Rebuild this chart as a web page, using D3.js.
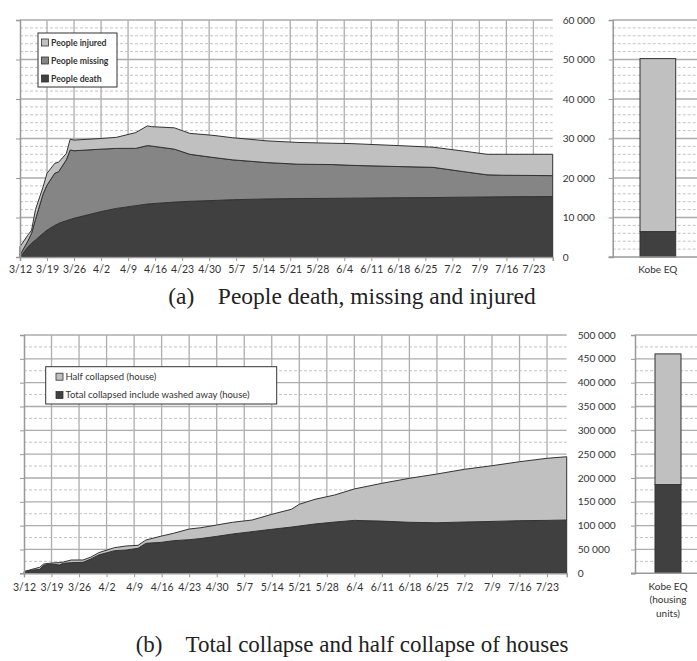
<!DOCTYPE html>
<html>
<head>
<meta charset="utf-8">
<script src="https://cdn.jsdelivr.net/npm/d3@7"></script>
<style>
  html, body { margin: 0; padding: 0; background: #fff; }
  svg { display: block; }
  text { font-family: Lato, "Open Sans", sans-serif; fill: #333; }
  .cap { font-family: "Liberation Serif", "DejaVu Serif", serif; fill: #222; }
</style>
</head>
<body>
<svg id="chart" width="697" height="661"></svg>
<script>
// ---------- DATA ----------
// (a) people
const datesA = ["2011-03-12","2011-03-14","2011-03-15","2011-03-16","2011-03-18","2011-03-19","2011-03-21","2011-03-22","2011-03-24","2011-03-25","2011-03-26","2011-04-02","2011-04-06","2011-04-11","2011-04-14","2011-04-15","2011-04-21","2011-04-25","2011-05-01","2011-05-06","2011-05-15","2011-05-23","2011-06-01","2011-06-06","2011-06-18","2011-06-27","2011-07-05","2011-07-11","2011-07-15","2011-07-28"];
const peopleDeath   = [0,2500,3500,4300,6000,6800,8000,8500,9200,9500,9800,11500,12300,13000,13400,13500,13900,14100,14300,14500,14700,14800,14850,14900,15000,15050,15150,15200,15250,15300];
const peopleMissing = [500,1500,2500,5200,10000,11400,13200,13100,15400,17600,17100,15800,15200,14500,14800,14600,13400,11900,10900,10100,9200,8700,8550,8300,7900,7650,6450,5600,5450,5300];
const peopleInjured = [2100,1500,800,2500,1800,3000,2500,2400,1600,2700,2700,2700,2800,4000,5000,4900,5400,5300,5600,5600,5500,5500,5400,5500,5300,5100,5200,5200,5300,5400];
const kobePeople = { death: 6434, injured: 43792 };
const seriesA = ["People death","People missing","People injured"];
const yTicksA = [0,10000,20000,30000,40000,50000,60000];

// (b) houses
const datesB = ["2011-03-12","2011-03-14","2011-03-16","2011-03-17","2011-03-19","2011-03-21","2011-03-22","2011-03-24","2011-03-27","2011-03-29","2011-03-31","2011-04-04","2011-04-07","2011-04-10","2011-04-12","2011-04-16","2011-04-19","2011-04-23","2011-04-26","2011-04-30","2011-05-04","2011-05-09","2011-05-14","2011-05-19","2011-05-21","2011-05-25","2011-05-30","2011-06-04","2011-06-11","2011-06-18","2011-06-25","2011-07-02","2011-07-09","2011-07-16","2011-07-23","2011-07-28"];
const totalCollapsed = [3400,6500,8300,17000,19500,17500,21000,22300,23000,30000,38400,47500,48900,52400,62900,65000,68400,70500,73000,77500,82400,87400,92300,97000,99200,103500,107500,111000,109500,107000,106000,107600,108800,110400,111000,111800];
const halfCollapsed  = [0,1800,4300,2500,2000,5000,2700,5600,4900,4000,4900,6300,8400,6300,7000,13200,15500,22400,22700,23800,24600,24400,31500,37300,45600,51800,56800,66000,79300,92300,102300,110600,116900,123700,130300,132800];
const kobeHouses = { total: 186175, half: 274181 };
const seriesB = ["Total collapsed include washed away (house)","Half collapsed (house)"];
const yTicksB = [0,50000,100000,150000,200000,250000,300000,350000,400000,450000,500000];

const weekTicks = ["3/12","3/19","3/26","4/2","4/9","4/16","4/23","4/30","5/7","5/14","5/21","5/28","6/4","6/11","6/18","6/25","7/2","7/9","7/16","7/23"];
const captionA = "(a)\u2003People death, missing and injured";
const captionB = "(b)\u2003Total collapse and half collapse of houses";
const kobeLabelA = ["Kobe EQ"];
const kobeLabelB = ["Kobe EQ","(housing","units)"];

// ---------- STYLE ----------
const C_DARK = "#404040", C_MID = "#858585", C_LIGHT = "#c0c0c0";
const C_GRID = "#adadad", C_MINOR = "#c4c4c4", C_LINE = "#333";

const svg = d3.select("#chart");
svg.append("rect").attr("width",697).attr("height",661).attr("fill","#fff");
const parse = d3.timeParse("%Y-%m-%d");
const tickDates = weekTicks.map(s => parse("2011-" + s.split("/").map(v => v.padStart(2,"0")).join("-")));
const fmt = v => d3.format(",")(v).replace(/,/g, " ");

function panel(opt) {
  const g = svg.append("g");
  const x = d3.scaleTime().domain([parse("2011-03-12"), parse("2011-07-28")]).range([opt.x0, opt.x1]);
  const y = d3.scaleLinear().domain([0, opt.ymax]).range([opt.yb, opt.yt]);

  const minors = d3.range(0, opt.ymax + 1, opt.minor).filter(v => v % opt.major !== 0);
  g.selectAll(".mn").data(minors).join("line")
    .attr("x1", opt.x0).attr("x2", opt.x1).attr("y1", d => y(d)).attr("y2", d => y(d))
    .attr("stroke", C_MINOR).attr("stroke-dasharray", "3,2").attr("stroke-width", 1);
  g.selectAll(".mj").data(opt.yTicks.filter(v => v > 0)).join("line")
    .attr("x1", opt.x0).attr("x2", opt.x1).attr("y1", d => y(d)).attr("y2", d => y(d))
    .attr("stroke", C_GRID).attr("stroke-width", 1.3);
  g.selectAll(".vg").data(tickDates.slice(1)).join("line")
    .attr("x1", d => x(d)).attr("x2", d => x(d)).attr("y1", opt.yt).attr("y2", opt.yb)
    .attr("stroke", C_GRID).attr("stroke-width", 1.3);

  const rows = opt.dates.map((d, i) => {
    const r = { date: parse(d) };
    opt.keys.forEach((k, j) => r[k] = opt.values[j][i]);
    return r;
  });
  const stack = d3.stack().keys(opt.keys)(rows);
  const area = d3.area().x(d => x(d.data.date)).y0(d => y(d[0])).y1(d => y(d[1]));
  g.selectAll(".ar").data(stack).join("path")
    .attr("d", area).attr("fill", (d, i) => opt.colors[i])
    .attr("stroke", C_LINE).attr("stroke-width", 1).attr("stroke-linejoin", "round");

  const ly = g.append("g").attr("transform", `translate(${opt.x0},0)`)
    .call(d3.axisLeft(y).tickValues(opt.yTicks).tickSize(4).tickFormat(""));
  ly.select(".domain").attr("stroke", "#999").attr("stroke-width", 1.5);
  ly.selectAll(".tick line").attr("stroke", "#999");
  const bx = g.append("g").attr("transform", `translate(0,${opt.yb})`)
    .call(d3.axisBottom(x).tickValues(tickDates).tickSize(4).tickFormat((d, i) => weekTicks[i]));
  bx.select(".domain").attr("stroke", "#999").attr("stroke-width", 1.5);
  bx.selectAll(".tick line").attr("stroke", "#999");
  bx.selectAll(".tick text").attr("font-size", 10.5).attr("fill", "#333").attr("dy", opt.labDy)
    .style("font-family", "Lato, sans-serif");
  g.selectAll(".yl").data(opt.yTicks).join("text")
    .attr("x", opt.x1 + opt.labGap).attr("y", d => y(d)).attr("dy", "0.35em")
    .attr("font-size", 10.2).text(d => fmt(d));

  const kx0 = opt.kx0, kx1 = 697;
  g.selectAll(".kmn").data(minors).join("line")
    .attr("x1", kx0).attr("x2", kx1).attr("y1", d => y(d)).attr("y2", d => y(d))
    .attr("stroke", C_MINOR).attr("stroke-dasharray", "3,2");
  g.selectAll(".kmj").data(opt.yTicks.filter(v => v > 0)).join("line")
    .attr("x1", kx0).attr("x2", kx1).attr("y1", d => y(d)).attr("y2", d => y(d))
    .attr("stroke", C_GRID).attr("stroke-width", 1.3);
  const kb = d3.scaleBand().domain(["Kobe"]).range([opt.kb0, opt.kb1]);
  let acc = 0;
  opt.kobe.forEach((v, i) => {
    g.append("rect").attr("x", kb("Kobe")).attr("width", kb.bandwidth())
      .attr("y", y(acc + v)).attr("height", y(acc) - y(acc + v))
      .attr("fill", opt.kobeColors[i]).attr("stroke", C_LINE).attr("stroke-width", 1);
    acc += v;
  });
  const ky = g.append("g").attr("transform", `translate(${kx0},0)`)
    .call(d3.axisLeft(y).tickValues(opt.yTicks).tickSize(4).tickFormat(""));
  ky.select(".domain").attr("stroke", "#999").attr("stroke-width", 1.5);
  ky.selectAll(".tick line").attr("stroke", "#999");
  g.append("line").attr("x1", kx0 - 4).attr("x2", kx1).attr("y1", opt.yb).attr("y2", opt.yb)
    .attr("stroke", "#999").attr("stroke-width", 1.5);
  opt.kobeLabel.forEach((t, i) => {
    g.append("text").attr("x", kb("Kobe") + kb.bandwidth() / 2).attr("y", opt.klY + i * 13.3)
      .attr("text-anchor", "middle").attr("font-size", 10).text(t);
  });

  const lg = g.append("g");
  lg.append("rect").attr("x", opt.leg.x).attr("y", opt.leg.y).attr("width", opt.leg.w).attr("height", opt.leg.h)
    .attr("fill", "#fff").attr("stroke", "#333").attr("stroke-width", 1);
  opt.leg.items.forEach((it, i) => {
    const yy = opt.leg.y + opt.leg.first + i * opt.leg.step;
    lg.append("rect").attr("x", opt.leg.sx).attr("y", yy - 3.5).attr("width", 7).attr("height", 7)
      .attr("fill", it.color).attr("stroke", "#333").attr("stroke-width", 0.8);
    lg.append("text").attr("x", opt.leg.sx + 9.5).attr("y", yy).attr("dy", "0.35em")
      .attr("font-size", opt.leg.fs).attr("font-weight", opt.leg.fw).attr("fill", "#222").text(it.name);
  });
}

panel({
  x0: 20, x1: 552.7, yt: 20, yb: 257, ymax: 60000, major: 10000, minor: 2000,
  yTicks: yTicksA, dates: datesA, keys: seriesA,
  values: [peopleDeath, peopleMissing, peopleInjured], colors: [C_DARK, C_MID, C_LIGHT],
  labDy: "0.85em", labGap: 10,
  kx0: 612.7, kb0: 640, kb1: 675.7, kobe: [kobePeople.death, kobePeople.injured], kobeColors: [C_DARK, C_LIGHT],
  kobeLabel: kobeLabelA, klY: 273,
  leg: { x: 38, y: 33, w: 79, h: 54, sx: 41.5, first: 9.5, step: 18, fs: 8.7, fw: "bold",
         items: [{ name: seriesA[2], color: C_LIGHT }, { name: seriesA[1], color: C_MID }, { name: seriesA[0], color: C_DARK }] }
});

panel({
  x0: 24, x1: 566.7, yt: 335, yb: 573.3, ymax: 500000, major: 50000, minor: 25000,
  yTicks: yTicksB, dates: datesB, keys: seriesB,
  values: [totalCollapsed, halfCollapsed], colors: [C_DARK, C_LIGHT],
  labDy: "1.05em", labGap: 11,
  kx0: 635, kb0: 655, kb1: 681, kobe: [kobeHouses.total, kobeHouses.half], kobeColors: [C_DARK, C_LIGHT],
  kobeLabel: kobeLabelB, klY: 590,
  leg: { x: 45.7, y: 366.7, w: 231, h: 37.3, sx: 56, first: 10, step: 18.3, fs: 9.5, fw: "normal",
         items: [{ name: seriesB[1], color: C_LIGHT }, { name: seriesB[0], color: C_DARK }] }
});

svg.append("text").attr("class", "cap").attr("x", 352).attr("y", 304).attr("text-anchor", "middle")
  .attr("font-size", 23.5).text(captionA);
svg.append("text").attr("class", "cap").attr("x", 352).attr("y", 652).attr("text-anchor", "middle")
  .attr("font-size", 23).text(captionB);
</script>
</body>
</html>
